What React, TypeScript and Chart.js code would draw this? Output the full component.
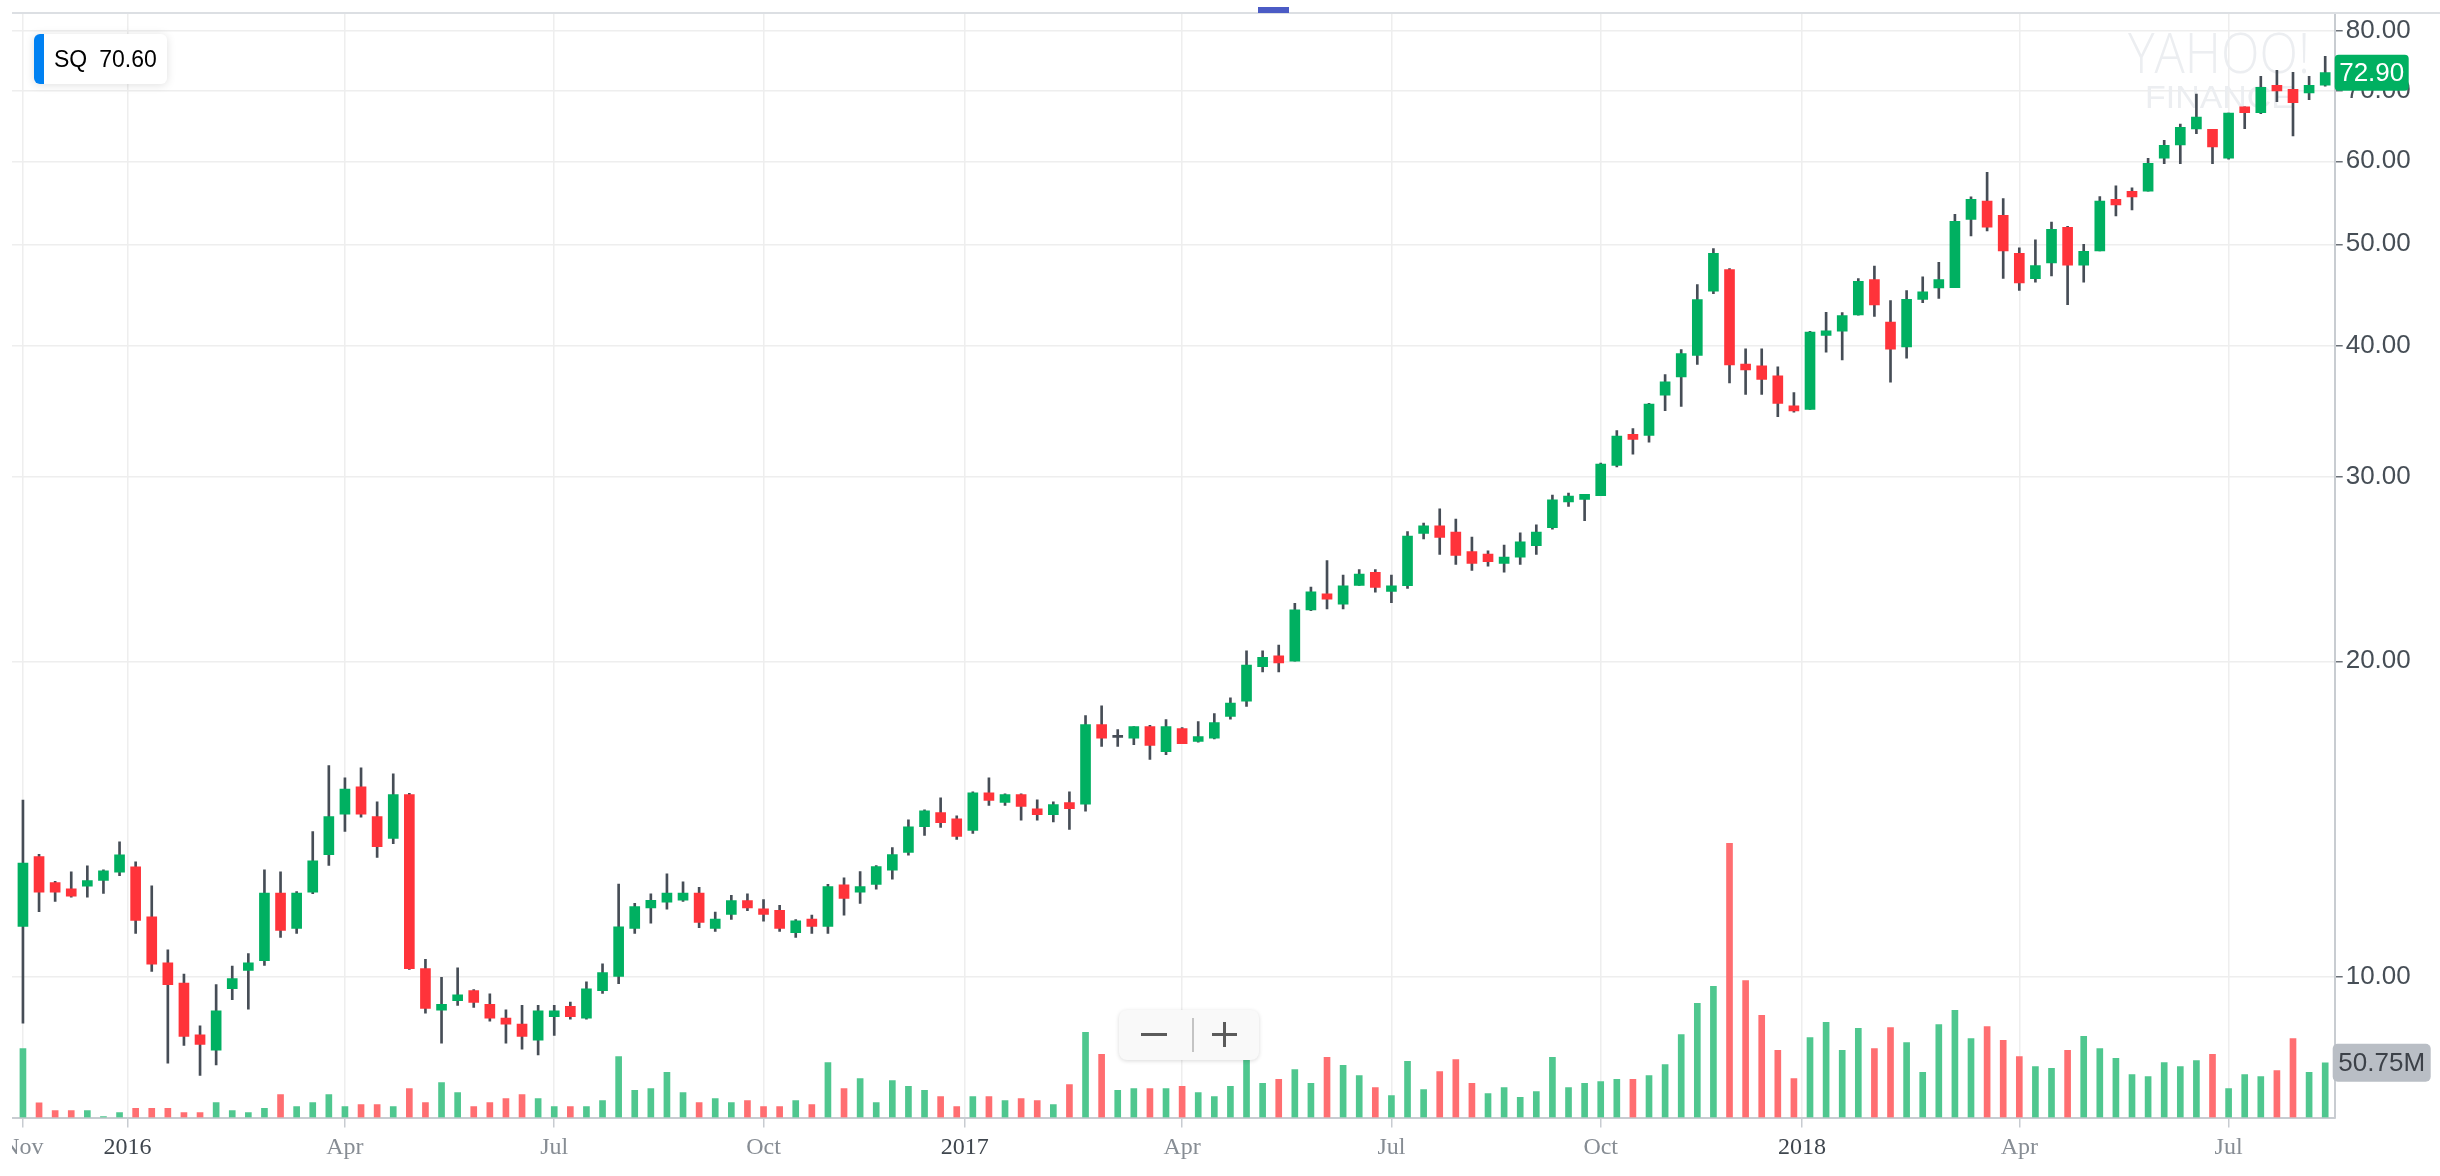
import React, { useEffect, useRef } from "react";
import { Chart, registerables } from "chart.js";

Chart.register(...registerables);

// Weekly candles of SQ, first week starting 2015-11-16 (index 0), one entry per week.
const symbol = "SQ";
const symbolQuote = "70.60";

const opens = [
  11.17, 13.02, 12.3, 12.13, 12.2, 12.36, 12.58, 12.73, 11.41, 10.31,
  9.86, 8.8, 8.51, 9.74, 10.14, 10.36, 12.02, 11.12, 12.04, 13.08,
  14.29, 15.18, 14.22, 13.55, 14.92, 10.18, 9.29, 9.49, 9.7, 9.41,
  9.13, 9.01, 8.7, 9.16, 9.37, 9.13, 9.7, 10.01, 11.12, 11.63,
  11.78, 11.83, 12.02, 11.12, 11.47, 11.82, 11.61, 11.57, 11.02, 11.35,
  11.17, 12.24, 12.04, 12.25, 12.64, 13.14, 13.91, 14.34, 14.15, 13.79,
  14.98, 14.67, 14.92, 14.46, 14.28, 14.66, 14.61, 17.4, 16.92, 16.89,
  17.33, 16.4, 17.25, 16.77, 16.89, 17.72, 18.32, 19.77, 20.24, 20.01,
  22.39, 23.2, 22.68, 23.63, 24.32, 23.32, 23.61, 26.49, 26.93, 26.57,
  25.45, 25.31, 24.8, 25.14, 25.79, 26.82, 28.39, 28.54, 28.78, 30.76,
  32.93, 32.85, 35.89, 37.35, 39.16, 45.1, 47.3, 38.43, 38.28, 37.44,
  35.06, 34.78, 40.92, 41.31, 42.8, 46.27, 42.14, 39.9, 44.3, 45.42,
  45.45, 52.8, 54.97, 53.28, 49.02, 46.35, 47.99, 51.9, 47.76, 49.27,
  55.2, 56.18, 56.18, 60.4, 62.2, 64.42, 64.37, 60.4, 67.62, 66.77,
  70.91, 70.29, 69.72, 70.91,
];

const highs = [
  14.74, 13.09, 12.33, 12.59, 12.76, 12.65, 13.45, 12.87, 12.21, 10.61,
  10.06, 8.98, 9.83, 10.24, 10.52, 12.65, 12.59, 12.06, 13.76, 15.9,
  15.48, 15.83, 14.69, 15.62, 14.96, 10.39, 9.99, 10.2, 9.72, 9.63,
  9.3, 9.39, 9.39, 9.39, 9.46, 9.89, 10.29, 12.26, 11.75, 12.0,
  12.54, 12.32, 12.17, 11.53, 11.96, 12.0, 11.85, 11.7, 11.34, 11.45,
  12.25, 12.43, 12.6, 12.77, 13.28, 14.12, 14.43, 14.82, 14.24, 15.01,
  15.48, 14.95, 14.95, 14.75, 14.69, 15.01, 17.75, 18.14, 17.21, 17.33,
  17.37, 17.6, 17.29, 17.52, 17.83, 18.46, 20.47, 20.47, 20.73, 22.72,
  23.54, 24.95, 24.17, 24.47, 24.47, 24.17, 26.6, 27.09, 27.96, 27.33,
  26.27, 25.5, 25.82, 26.52, 26.99, 28.81, 28.95, 28.87, 30.91, 33.21,
  33.35, 35.26, 37.55, 39.68, 45.76, 49.53, 47.4, 39.74, 39.74, 38.2,
  36.09, 41.3, 43.05, 43.02, 46.36, 47.67, 44.18, 45.16, 46.54, 48.05,
  53.41, 55.5, 58.57, 55.28, 49.6, 50.48, 52.5, 52.0, 50.0, 55.52,
  56.85, 56.6, 60.4, 62.84, 65.1, 69.53, 64.37, 66.72, 67.62, 72.33,
  73.29, 72.97, 72.33, 75.58,
];

const lows = [
  9.03, 11.54, 11.8, 11.91, 11.91, 12.01, 12.49, 11.0, 10.12, 8.27,
  8.6, 8.05, 8.24, 9.51, 9.31, 10.25, 10.9, 11.0, 12.0, 12.77,
  13.76, 14.2, 13.0, 13.4, 10.16, 9.23, 8.64, 9.39, 9.35, 9.07,
  8.64, 8.53, 8.42, 8.79, 9.11, 9.11, 9.64, 9.85, 11.0, 11.25,
  11.6, 11.8, 11.14, 11.05, 11.34, 11.56, 11.3, 11.05, 10.9, 11.0,
  11.0, 11.45, 11.75, 12.12, 12.39, 13.06, 13.64, 13.88, 13.52, 13.7,
  14.57, 14.57, 14.11, 14.11, 14.05, 13.82, 14.39, 16.59, 16.59, 16.65,
  16.12, 16.29, 16.69, 16.74, 16.86, 17.61, 18.11, 19.54, 19.54, 20.01,
  22.35, 22.44, 22.44, 23.63, 23.28, 22.75, 23.47, 26.17, 25.29, 24.75,
  24.42, 24.65, 24.32, 24.75, 25.29, 26.74, 28.1, 27.24, 28.78, 30.66,
  31.53, 32.36, 34.69, 35.01, 38.4, 44.86, 36.86, 35.95, 35.95, 34.24,
  34.57, 34.78, 39.45, 38.77, 42.78, 42.67, 36.92, 38.93, 43.98, 44.39,
  45.45, 50.92, 51.5, 46.39, 45.18, 46.0, 46.65, 43.78, 46.0, 49.27,
  53.21, 53.91, 56.18, 59.7, 59.7, 63.74, 59.7, 60.28, 64.47, 66.62,
  68.39, 63.45, 68.69, 70.76,
];

const closes = [
  12.84, 12.04, 12.04, 11.94, 12.35, 12.62, 13.07, 11.32, 10.28, 9.83,
  8.77, 8.62, 9.28, 9.96, 10.31, 12.02, 11.07, 12.02, 12.9, 14.22,
  15.1, 14.29, 13.31, 14.92, 10.18, 9.33, 9.41, 9.61, 9.45, 9.13,
  9.01, 8.77, 9.28, 9.28, 9.16, 9.74, 10.09, 11.16, 11.67, 11.83,
  12.02, 12.02, 11.27, 11.35, 11.82, 11.63, 11.47, 11.12, 11.31, 11.17,
  12.19, 11.88, 12.19, 12.74, 13.08, 13.9, 14.4, 14.03, 13.61, 14.98,
  14.73, 14.92, 14.54, 14.28, 14.6, 14.47, 17.4, 16.89, 16.92, 17.33,
  16.62, 17.33, 16.69, 16.95, 17.48, 18.25, 19.83, 20.18, 19.93, 22.39,
  23.3, 22.92, 23.61, 24.22, 23.52, 23.61, 26.33, 26.93, 26.25, 25.24,
  24.8, 24.9, 25.14, 26.0, 26.57, 28.51, 28.75, 28.87, 30.85, 32.8,
  32.57, 35.19, 36.95, 39.32, 44.28, 49.01, 38.35, 37.94, 37.15, 35.24,
  34.66, 41.23, 41.35, 42.75, 46.09, 43.75, 39.71, 44.29, 45.04, 46.27,
  52.58, 55.2, 51.9, 49.27, 45.93, 47.72, 51.67, 47.76, 49.24, 54.98,
  54.51, 55.48, 59.74, 62.15, 64.66, 66.13, 61.93, 66.72, 66.77, 70.6,
  70.03, 68.25, 70.91, 72.9,
];

// Weekly volume, millions of shares
const volumes = [
  64.0, 13.6, 6.5, 6.5, 6.5, 0.9, 4.6, 8.4, 8.4, 8.4,
  4.6, 4.6, 13.9, 6.5, 4.6, 8.4, 21.3, 10.2, 13.9, 21.3,
  10.2, 12.1, 12.1, 10.2, 26.9, 13.9, 32.5, 23.2, 10.2, 13.9,
  17.6, 21.3, 17.6, 10.2, 10.2, 10.2, 15.8, 56.6, 25.1, 26.9,
  41.8, 23.2, 13.9, 17.6, 13.9, 15.8, 10.2, 10.2, 15.8, 12.1,
  51.0, 26.9, 36.2, 13.9, 34.3, 28.8, 25.1, 19.5, 10.2, 19.5,
  19.5, 15.8, 17.6, 15.8, 12.1, 30.6, 78.9, 58.5, 25.1, 26.9,
  26.9, 26.9, 28.8, 23.2, 19.5, 28.8, 65.0, 31.6, 35.3, 44.5,
  31.6, 55.7, 48.3, 39.0, 27.8, 20.4, 52.0, 26.0, 42.7, 53.8,
  31.6, 22.3, 27.8, 18.6, 24.1, 55.7, 27.8, 31.6, 33.4, 35.3,
  35.3, 39.0, 49.2, 77.0, 105.8, 121.6, 254.3, 127.1, 94.7, 62.2,
  36.2, 74.2, 88.2, 62.2, 82.6, 64.0, 83.5, 69.6, 41.8, 86.3,
  99.3, 73.3, 84.4, 71.5, 56.6, 47.3, 45.5, 62.2, 75.2, 64.0,
  54.8, 39.9, 38.0, 51.0, 47.3, 52.9, 58.5, 26.9, 39.9, 38.0,
  43.6, 73.3, 41.8, 50.75,
];

// Volume bar direction per week: G = up, R = down
const volumeDirection = [
  "GRRRGGGRRR", "RRGGGGRGGG", "GRRGRRGGRR", "RRGGRGGGGG", "GGRGGRRRGR",
  "GRGGGGGRRG", "RGRRGRGRGG", "RGRGGGGGRG", "GRGGRGGGRR", "RGGGGGGGGG",
  "RGGGGGRRRR", "RGGGGRRGGG", "GGRRRGGRGG", "GGGGGGRGGG", "RRGG",
].join("");

// X-axis ticks: label and the week index it sits on
const xTickLabels = ["Nov", "2016", "Apr", "Jul", "Oct", "2017", "Apr", "Jul", "Oct", "2018", "Apr", "Jul"];
const xTickWeeks = [0, 6.5, 20, 33, 46, 58.5, 72, 85, 98, 110.5, 124, 137];

// Y-axis ticks (price)
const yTickValues = [10, 20, 30, 40, 50, 60, 70, 80];

const GREEN = "#00b061";
const RED = "#ff333a";
const WICK = "#464d56";
const VOL_GREEN = "#4fc78f";
const VOL_RED = "#ff6e71";

export default function App() {
  const ref = useRef<HTMLCanvasElement | null>(null);

  useEffect(() => {
    document.body.style.margin = "0";
    document.body.style.overflow = "hidden";
    const canvas = ref.current;
    if (!canvas) return;

    const idx = closes.map((_, i) => i);
    const bodyColors = closes.map((c, i) => (c > opens[i] ? GREEN : c < opens[i] ? RED : WICK));
    const volColors = volumeDirection.split("").map((d) => (d === "G" ? VOL_GREEN : VOL_RED));
    const isYear = (i: number) => /^\d/.test(xTickLabels[i] || "");

    const fitText = (ctx: CanvasRenderingContext2D, text: string, x: number, y: number, w: number) => {
      const m = ctx.measureText(text).width;
      ctx.save();
      ctx.translate(x, y);
      ctx.scale(w / m, 1);
      ctx.fillText(text, 0, 0);
      ctx.restore();
    };

    const overlay = {
      id: "overlay",
      beforeDatasetsDraw(chart: any) {
        const ctx: CanvasRenderingContext2D = chart.ctx;
        ctx.save();
        ctx.fillStyle = "#eceef1";
        ctx.textAlign = "left";
        ctx.textBaseline = "alphabetic";
        ctx.font = '300 56px "Open Sans", "Liberation Sans", sans-serif';
        fitText(ctx, "YAHOO!", 2116, 73, 182);
        ctx.font = '32px "Liberation Sans", sans-serif';
        fitText(ctx, "FINANCE", 2133, 108, 149);
        ctx.restore();
      },
      afterDraw(chart: any) {
        const ctx: CanvasRenderingContext2D = chart.ctx;
        const area = chart.chartArea;
        const yS = chart.scales.y;
        const vS = chart.scales.yVol;
        const last = closes.length - 1;
        ctx.save();
        // top frame line and marker
        ctx.fillStyle = "#dcdfe3";
        ctx.fillRect(0, 12, chart.width, 2);
        ctx.fillStyle = "#4b5bc5";
        ctx.fillRect(1246, 7, 31, 6);
        // last price label
        const py = yS.getPixelForValue(closes[last]);
        ctx.fillStyle = GREEN;
        ctx.beginPath();
        ctx.roundRect(area.right, py - 18, 74, 36, 4);
        ctx.fill();
        ctx.fillStyle = "#ffffff";
        ctx.font = '26px "Liberation Sans", Arial, sans-serif';
        ctx.textAlign = "center";
        ctx.textBaseline = "middle";
        ctx.fillText(closes[last].toFixed(2), area.right + 37, py + 1);
        // last volume label
        const vy = vS.getPixelForValue(volumes[last]);
        ctx.fillStyle = "#b9bec5";
        ctx.beginPath();
        ctx.roundRect(area.right - 2, vy - 19, 98, 38, 5);
        ctx.fill();
        ctx.fillStyle = "#3c4148";
        ctx.fillText(volumes[last].toFixed(2) + "M", area.right + 47, vy + 1);
        ctx.restore();
      },
    };

    const noPad = (s: any) => {
      s.paddingLeft = 0;
      s.paddingRight = 0;
      s.paddingTop = 0;
      s.paddingBottom = 0;
    };

    const chart = new Chart(canvas, {
      type: "bar",
      data: {
        datasets: [
          {
            label: "Volume",
            data: idx.map((i) => ({ x: i, y: volumes[i] })) as any,
            yAxisID: "yVol",
            backgroundColor: volColors,
            barThickness: 6,
            maxBarThickness: 6,
            grouped: false,
            order: 3,
          },
          {
            label: "Range",
            data: idx.map((i) => ({ x: i, y: [lows[i], highs[i]] })) as any,
            yAxisID: "y",
            backgroundColor: WICK,
            barThickness: 2,
            maxBarThickness: 2,
            grouped: false,
            order: 2,
          },
          {
            label: "Open/Close",
            data: idx.map((i) => ({ x: i, y: [opens[i], closes[i]] })) as any,
            yAxisID: "y",
            backgroundColor: bodyColors,
            barThickness: 10,
            maxBarThickness: 10,
            minBarLength: 2,
            grouped: false,
            order: 1,
          },
        ],
      },
      options: {
        animation: false,
        responsive: false,
        devicePixelRatio: 1,
        events: [],
        layout: { padding: { top: 12.5, left: 0, right: 0, bottom: 0 }, autoPadding: false } as any,
        plugins: {
          legend: { display: false },
          tooltip: { enabled: false },
          title: { display: false },
        },
        scales: {
          x: {
            type: "linear",
            min: -0.68,
            max: 143.59,
            offset: false,
            bounds: "data",
            afterBuildTicks: (s: any) => {
              s.ticks = xTickWeeks.map((v) => ({ value: v }));
            },
            afterFit: (s: any) => {
              s.height = 58.5;
              noPad(s);
            },
            grid: {
              color: "#eeeeee",
              lineWidth: 1.5,
              drawTicks: true,
              tickLength: 10,
              tickColor: "#c8ccd1",
              offset: false,
            },
            border: { display: true, color: "#c8ccd1", width: 2 },
            ticks: {
              autoSkip: false,
              maxRotation: 0,
              minRotation: 0,
              padding: 6,
              font: { family: '"Liberation Serif", "Times New Roman", serif', size: 24 },
              color: (c: any) => (isYear(c.index) ? "#3f464e" : "#878d94"),
              callback: (_v: any, i: number) => xTickLabels[i],
            },
          } as any,
          y: {
            type: "logarithmic",
            position: "right",
            min: 7.34,
            max: 83.2,
            bounds: "data",
            afterBuildTicks: (s: any) => {
              s.ticks = yTickValues.map((v) => ({ value: v }));
            },
            afterFit: (s: any) => {
              s.width = 105.3;
              noPad(s);
            },
            grid: { color: "#eeeeee", lineWidth: 1.5, tickLength: 8, tickColor: "#6b7178" },
            border: { display: true, color: "#c8ccd1", width: 2 },
            ticks: {
              autoSkip: false,
              padding: 3,
              font: { family: '"Liberation Sans", Arial, sans-serif', size: 26 },
              color: "#464e56",
              callback: (v: any) => Number(v).toFixed(2),
            },
          } as any,
          yVol: {
            type: "linear",
            display: false,
            position: "right",
            min: 0,
            max: 1025,
          },
        },
      },
      plugins: [overlay],
    });

    return () => chart.destroy();
  }, []);

  return (
    <div
      style={{
        position: "absolute",
        left: 0,
        top: 0,
        width: 2440,
        height: 1176,
        background: "#ffffff",
        overflow: "hidden",
      }}
    >
      <canvas
        ref={ref}
        width={2428}
        height={1176}
        style={{ position: "absolute", left: 12, top: 0, width: 2428, height: 1176 }}
      />
      <div
        style={{
          position: "absolute",
          left: 34,
          top: 34,
          width: 133,
          height: 50,
          background: "#ffffff",
          borderRadius: 6,
          boxShadow: "0 1px 10px rgba(0,0,0,0.13)",
          overflow: "hidden",
          display: "flex",
          alignItems: "center",
          fontFamily: '"Liberation Sans", Arial, sans-serif',
          fontSize: 23,
          color: "#000000",
        }}
      >
        <div style={{ width: 10, alignSelf: "stretch", background: "#0081f2" }} />
        <span style={{ marginLeft: 10 }}>{symbol}</span>
        <span style={{ marginLeft: 12 }}>{symbolQuote}</span>
      </div>
      <div
        style={{
          position: "absolute",
          left: 1119,
          top: 1010,
          width: 140,
          height: 50,
          background: "#f9f9f9",
          borderRadius: 8,
          boxShadow: "0 1px 4px rgba(0,0,0,0.15)",
        }}
      >
        <div style={{ position: "absolute", left: 22, top: 23, width: 26, height: 3, background: "#5b5b5b" }} />
        <div style={{ position: "absolute", left: 73, top: 8, width: 2, height: 34, background: "#c4c4c4" }} />
        <div style={{ position: "absolute", left: 93, top: 23, width: 25, height: 3, background: "#5b5b5b" }} />
        <div style={{ position: "absolute", left: 104, top: 12, width: 3, height: 25, background: "#5b5b5b" }} />
      </div>
    </div>
  );
}
